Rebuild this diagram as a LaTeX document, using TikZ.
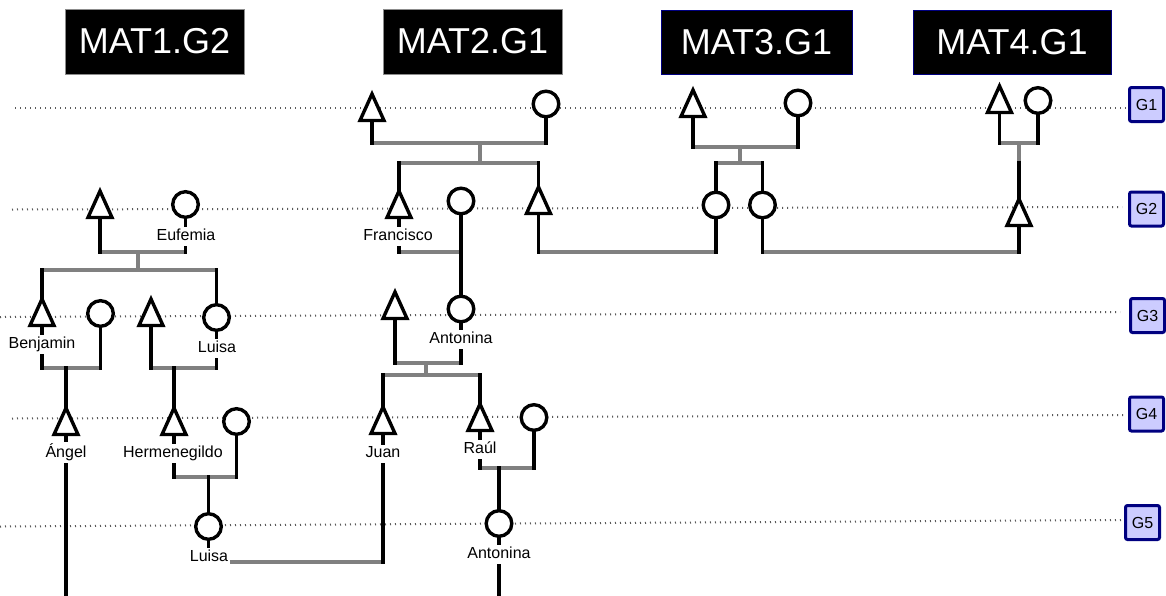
\documentclass[tikz,border=0pt]{standalone}
\usepackage{fontspec}
\setmainfont{Liberation Sans}
\usetikzlibrary{shapes.geometric}
\pgfdeclarelayer{back}
\pgfdeclarelayer{bg}
\pgfsetlayers{back,bg,main}
\definecolor{gbar}{HTML}{808080}
\definecolor{gfill}{HTML}{CCCCFF}
\definecolor{gedge}{HTML}{000080}
\begin{document}
\begin{tikzpicture}[x=1pt,y=-1pt,
 male/.style={isosceles triangle, shape border rotate=90, isosceles triangle stretches, minimum width=24, minimum height=26.5, inner sep=0pt, outer sep=0pt, draw=black, fill=white, line width=3.4pt, anchor=south},
 female/.style={circle, minimum size=25.6, inner sep=0pt, outer sep=0pt, draw=black, fill=white, line width=3.4pt},
 pname/.style={anchor=base, fill=white, inner sep=1.5pt, text depth=4pt, font=\fontsize{16}{18}\selectfont},
 blk/.style={draw=black, line width=3.4pt, line cap=rect},
 gry/.style={draw=gbar, line width=3.4pt},
 gen/.style={draw=black!65, line width=2pt, dash pattern=on 1pt off 4pt},
 hdr/.style={fill=black, text=white, inner sep=0pt, font=\fontsize{36}{40}\selectfont},
 gbox/.style={fill=gfill, draw=gedge, line width=3pt, rounded corners=2pt, minimum size=34, inner sep=0pt, font=\fontsize{16}{18}\selectfont}
]
\useasboundingbox (0,0) rectangle (1166,595);

% headers
\node[hdr, draw=black!45, line width=0.8pt, minimum width=179, minimum height=65] (h1) at (154.5,41.5) {MAT1.G2};
\node[hdr, draw=black!45, line width=0.8pt, minimum width=179, minimum height=65] (h2) at (472.5,41.5) {MAT2.G1};
\node[hdr, draw=gedge, line width=0.8pt, minimum width=191, minimum height=64] (h3) at (756.5,42) {MAT3.G1};
\node[hdr, draw=gedge, line width=0.8pt, minimum width=198, minimum height=64] (h4) at (1012,42) {MAT4.G1};

% generation boxes
\node[gbox] (g1) at (1146.5,104.5) {G1};
\node[gbox] (g2) at (1146.5,209) {G2};
\node[gbox] (g3) at (1147.5,315.5) {G3};
\node[gbox] (g4) at (1146.5,414) {G4};
\node[gbox] (g5) at (1142.5,522.5) {G5};

% persons
\node[male] (t1) at (372,120.5) {};
\node[female] (c1) at (546,104) {};
\node[male] (t2) at (693,116.5) {};
\node[female] (c2) at (798,103) {};
\node[male] (t3) at (999.5,112.5) {};
\node[female] (c3) at (1038,100.5) {};
\node[male] (t4) at (100,217.5) {};
\node[female] (c4) at (185.5,204.5) {};
\node[male] (t5) at (399,217.5) {};
\node[female] (c5) at (461,201) {};
\node[male] (t6) at (538.5,213.5) {};
\node[female] (c6) at (716,205) {};
\node[female] (c7) at (762.5,205) {};
\node[male] (t7) at (1019,225.5) {};
\node[male] (t8) at (42,325.5) {};
\node[female] (c8) at (100.5,313.5) {};
\node[male] (t9) at (151,325.5) {};
\node[female] (c9) at (216.5,317.5) {};
\node[male] (t10) at (395,318.5) {};
\node[female] (c10) at (461,309) {};
\node[male] (t11) at (66,434.5) {};
\node[male] (t12) at (174,434.5) {};
\node[female] (c11) at (236.5,421.5) {};
\node[male] (t13) at (383,433.5) {};
\node[male] (t14) at (480,430.5) {};
\node[female] (c12) at (534,417.5) {};
\node[female] (c13) at (208.5,526.5) {};
\node[female] (c14) at (499,523.5) {};

% names
\node[pname] (n1) at (186,240) {Eufemia};
\node[pname] (n2) at (398,240) {Francisco};
\node[pname] (n3) at (42,348) {Benjamin};
\node[pname] (n4) at (217,352) {Luisa};
\node[pname] (n5) at (461,343.5) {Antonina};
\node[pname] (n6) at (66,457) {Ángel};
\node[pname] (n7) at (173,457) {Hermenegildo};
\node[pname] (n8) at (383,457) {Juan};
\node[pname] (n9) at (480,453) {Raúl};
\node[pname] (n10) at (209,561) {Luisa};
\node[pname] (n11) at (499,558) {Antonina};

% junction coordinates
\coordinate (m2) at (480,143);  \coordinate (s2) at (480,163);
\coordinate (m3) at (740,147);  \coordinate (s3) at (740,163);
\coordinate (m4) at (1019,143); \coordinate (s4) at (1019,163);
\coordinate (m1) at (138,252);  \coordinate (s1) at (138,270);
\coordinate (m5) at (461,252);
\coordinate (g2bar) at (0,252);
\coordinate (mb) at (66,368);
\coordinate (ml) at (174,368);
\coordinate (mh) at (209,477);
\coordinate (mj) at (383,562);
\coordinate (ma) at (426,363);  \coordinate (sa) at (426,375);
\coordinate (mr) at (499,468);
\coordinate (bot) at (0,595);

% generation lines
\coordinate (l1a) at (15,108);  \coordinate (l1b) at (1126,108);
\coordinate (l2a) at (12,209.5); \coordinate (l2b) at (1122,207);
\coordinate (l3a) at (0,317);   \coordinate (l3b) at (1120,312);
\coordinate (l4a) at (12,418.5); \coordinate (l4b) at (1124,415);
\coordinate (l5a) at (0,526.5); \coordinate (l5b) at (1122,520);
\begin{pgfonlayer}{back}
\draw[gen] (l1a) -- (l1b);
\draw[gen] (l2a) -- (l2b);
\draw[gen] (l3a) -- (l3b);
\draw[gen] (l4a) -- (l4b);
\draw[gen] (l5a) -- (l5b);
\end{pgfonlayer}

\begin{pgfonlayer}{bg}
% gray bars
\draw[gry] (t1.south |- m2) -- (c1.south |- m2);
\draw[gry] (m2) -- (s2);
\draw[gry] (t5.north |- s2) -- (t6.north |- s2);
\draw[gry] (t2.south |- m3) -- (c2.south |- m3);
\draw[gry] (m3) -- (s3);
\draw[gry] (c6.north |- s3) -- (c7.north |- s3);
\draw[gry] (t3.south |- m4) -- (c3.south |- m4);
\draw[gry] (m4) -- (s4);
\draw[gry] (t5.south |- m5) -- (m5);
\draw[gry] (t6.south |- g2bar) -- (c6.south |- g2bar);
\draw[gry] (c7.south |- g2bar) -- (t7.south |- g2bar);
\draw[gry] (t4.south |- m1) -- (c4.south |- m1);
\draw[gry] (m1) -- (s1);
\draw[gry] (t8.north |- s1) -- (c9.north |- s1);
\draw[gry] (t8.south |- mb) -- (c8.south |- mb);
\draw[gry] (t9.south |- ml) -- (c9.south |- ml);
\draw[gry] (t12.south |- mh) -- (c11.south |- mh);
\draw[gry] (c13.south |- mj) -- (mj);
\draw[gry] (t10.south |- ma) -- (c10.south |- ma);
\draw[gry] (ma) -- (sa);
\draw[gry] (t13.north |- sa) -- (t14.north |- sa);
\draw[gry] (t14.south |- mr) -- (c12.south |- mr);
% black verticals
\draw[blk] (t1.south) -- (t1.south |- m2);
\draw[blk] (c1.south) -- (c1.south |- m2);
\draw[blk] (t5.north |- s2) -- (t5.north);
\draw[blk] (t6.north |- s2) -- (t6.north);
\draw[blk] (t2.south) -- (t2.south |- m3);
\draw[blk] (c2.south) -- (c2.south |- m3);
\draw[blk] (c6.north |- s3) -- (c6.north);
\draw[blk] (c7.north |- s3) -- (c7.north);
\draw[blk] (t3.south) -- (t3.south |- m4);
\draw[blk] (c3.south) -- (c3.south |- m4);
\draw[blk] (s4) -- (t7.north);
\draw[blk] (t5.south) -- (t5.south |- m5);
\draw[blk] (c5.south) -- (c10.north);
\draw[blk] (t6.south) -- (t6.south |- g2bar);
\draw[blk] (c6.south) -- (c6.south |- g2bar);
\draw[blk] (c7.south) -- (c7.south |- g2bar);
\draw[blk] (t7.south) -- (t7.south |- g2bar);
\draw[blk] (t4.south) -- (t4.south |- m1);
\draw[blk] (c4.south) -- (c4.south |- m1);
\draw[blk] (t8.north |- s1) -- (t8.north);
\draw[blk] (c9.north |- s1) -- (c9.north);
\draw[blk] (t8.south) -- (t8.south |- mb);
\draw[blk] (c8.south) -- (c8.south |- mb);
\draw[blk] (t11.north |- mb) -- (t11.north);
\draw[blk] (t9.south) -- (t9.south |- ml);
\draw[blk] (c9.south) -- (c9.south |- ml);
\draw[blk] (t12.north |- ml) -- (t12.north);
\draw[blk] (t11.south) -- (t11.south |- bot);
\draw[blk] (t12.south) -- (t12.south |- mh);
\draw[blk] (c11.south) -- (c11.south |- mh);
\draw[blk] (c13.north |- mh) -- (c13.north);
\draw[blk] (c13.south) -- (c13.south |- mj);
\draw[blk] (t13.south) -- (mj);
\draw[blk] (t10.south) -- (t10.south |- ma);
\draw[blk] (c10.south) -- (c10.south |- ma);
\draw[blk] (t13.north |- sa) -- (t13.north);
\draw[blk] (t14.north |- sa) -- (t14.north);
\draw[blk] (t14.south) -- (t14.south |- mr);
\draw[blk] (c12.south) -- (c12.south |- mr);
\draw[blk] (c14.north |- mr) -- (c14.north);
\draw[blk] (c14.south) -- (c14.south |- bot);
\end{pgfonlayer}
\end{tikzpicture}
\end{document}
